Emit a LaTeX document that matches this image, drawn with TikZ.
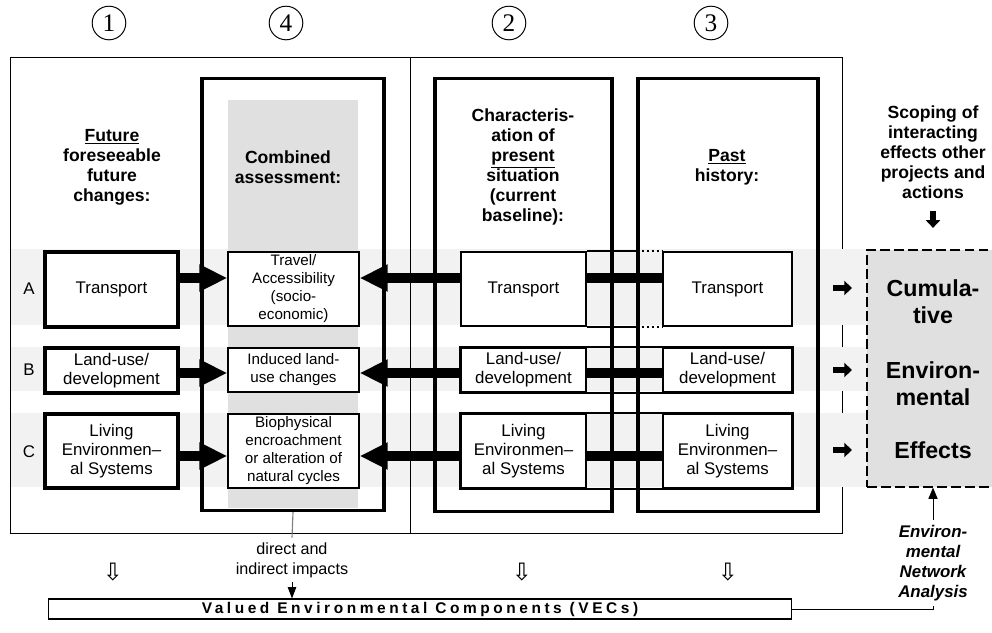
\documentclass[tikz,border=0pt]{standalone}
\usepackage{fontspec}
\setmainfont{Liberation Sans}
\newfontfamily\numfont{Liberation Serif}
\newfontfamily\symfont{DejaVu Sans}
\usetikzlibrary{arrows.meta}

\begin{document}
\begin{tikzpicture}[x=0.025cm, y=-0.025cm,
  numring/.style={circle, draw, line width=0.7pt, minimum size=0.84cm, inner sep=0pt, font=\numfont\fontsize{18}{18}\selectfont},
  header/.style={align=center, font=\bfseries\fontsize{12.5}{14.2}\selectfont},
  colbox/.style={draw, line width=2.2pt, minimum height=10.8cm},
  futbox/.style={draw, fill=white, line width=2.2pt, minimum width=3.325cm, align=center, inner sep=1pt, font=\fontsize{12}{13.5}\selectfont},
  combox/.style={draw, fill=white, line width=0.8pt, minimum width=3.275cm, align=center, inner sep=1pt, font=\fontsize{10.8}{12.8}\selectfont},
  basebox/.style={draw, fill=white, line width=1.6pt, minimum width=3.125cm, align=center, inner sep=1pt, font=\fontsize{12}{13.5}\selectfont},
  fatarrow/.style={line width=7pt, -{Triangle[length=20pt,width=18pt]}},
  fatbar/.style={line width=7pt},
  blockarrow/.style={line width=4.5pt, -{Triangle[length=5.5pt,width=10pt]}},
  effect/.style={align=center, font=\bfseries\fontsize{16.5}{19}\selectfont},
  band/.style={fill=black!5}]
  \useasboundingbox (0,0) rectangle (992,632);
  % frame and row bands
  \draw[line width=0.6pt] (10,57) rectangle (842,533);
  \foreach \ya/\yb in {249/325, 347/391, 413/487}
    \fill[band] (11,\ya) rectangle (867,\yb);
  \fill[black!12] (228,100) rectangle (358,508);
  \draw[line width=0.6pt] (410,57) -- (410,533);

  % column numbers
  \node[numring] (n1) at (109,23) {1};
  \node[numring] (n4) at (286,23) {4};
  \node[numring] (n2) at (509,23) {2};
  \node[numring] (n3) at (711,23) {3};

  % columns
  \node[colbox, minimum width=4.55cm] (col4) at (293,294.5) {};
  \node[colbox, minimum width=4.425cm] (col2) at (523.5,295) {};
  \node[colbox, minimum width=4.5cm] (col3) at (728,295) {};
  \node[header] (fut) at (112,167) {\underline{Future}\\foreseeable\\future\\changes:};
  \node[header] (comb) at (288,167.5) {Combined\\assessment:};
  \node[header] (pres) at (523,167) {Characteris-\\ation of\\\underline{present}\\situation\\(current\\baseline):};
  \node[header] (past) at (727,167) {\underline{Past}\\history:};

  % rows A, B, C
  \node[font=\fontsize{12}{12}\selectfont] (la) at (29,289) {A};
  \node[font=\fontsize{12}{12}\selectfont] (lb) at (29,370) {B};
  \node[font=\fontsize{12}{12}\selectfont] (lc) at (29,452) {C};
  \coordinate (lvA) at (0,278);
  \coordinate (lvB) at (0,373);
  \coordinate (lvC) at (0,456);

  \node[futbox, minimum height=1.875cm] (tA) at (111.5,289.5) {Transport};
  \node[futbox, minimum height=1.125cm] (tB) at (111.5,370.5) {Land-use/\\development};
  \node[futbox, minimum height=1.85cm] (tC) at (111.5,451) {Living\\Environmen--\\al Systems};

  \node[combox, minimum height=1.85cm] (cA) at (293.5,289) {Travel/\\Accessibility\\(socio-\\economic)};
  \node[combox, minimum height=1.1cm] (cB) at (293.5,370) {Induced land-\\use changes};
  \node[combox, minimum height=1.85cm] (cC) at (293.5,451) {Biophysical\\encroachment\\or alteration of\\natural cycles};

  \node[basebox, minimum height=1.85cm] (pA) at (523.5,289) {Transport};
  \node[basebox, minimum height=1.1cm] (pB) at (523.5,370) {Land-use/\\development};
  \node[basebox, minimum height=1.85cm] (pC) at (523.5,451) {Living\\Environmen--\\al Systems};
  \node[basebox, minimum width=3.225cm, minimum height=1.85cm] (hA) at (727.5,289) {Transport};
  \node[basebox, minimum width=3.225cm, minimum height=1.1cm] (hB) at (727.5,370) {Land-use/\\development};
  \node[basebox, minimum width=3.225cm, minimum height=1.85cm] (hC) at (727.5,451) {Living\\Environmen--\\al Systems};

  \draw[line width=1.6pt] (pA.north east) -- (pA.north east -| col3.west);
  \draw[line width=1.6pt, dotted] (pA.north east -| col3.west) -- (hA.north west);
  \draw[line width=1.6pt] (pA.south east) -- (pA.south east -| col3.west);
  \draw[line width=1.6pt, dotted] (pA.south east -| col3.west) -- (hA.south west);
  \draw[line width=1.6pt] (pB.north west) rectangle (hB.south east);
  \draw[line width=1.6pt] (pC.north west) rectangle (hC.south east);

  \foreach \r in {A,B,C} {
    \draw[fatarrow] (t\r.east |- lv\r) -- (c\r.west |- lv\r);
    \draw[fatarrow] (p\r.west |- lv\r) -- (c\r.east |- lv\r);
    \draw[fatbar] (p\r.east |- lv\r) -- (h\r.west |- lv\r);
  }

  % cumulative effects
  \node[draw, dash pattern=on 7pt off 3pt, fill=black!12, line width=0.8pt, minimum width=3.3cm, minimum height=5.925cm] (cee) at (933,368.5) {};
  \node[effect] (e1) at (933,301.5) {Cumula-\\tive};
  \node[effect] (e2) at (933,383.5) {Environ-\\mental};
  \node[effect] (e3) at (933,450) {Effects};
  \foreach \y in {288,370,450}
    \draw[blockarrow] (833,\y) -- (852,\y);
  \node[header] (scope) at (933,152.5) {Scoping of\\interacting\\effects other\\projects and\\actions};
  \draw[blockarrow] ([yshift=-5pt]scope.south) -- ++(0,17);
  \node[align=center, font=\bfseries\itshape\fontsize{12}{14.2}\selectfont] (ena) at (933,563) {Environ-\\mental\\Network\\Analysis};
  \draw[line width=0.6pt, -{Triangle[length=8pt,width=6.5pt]}] (ena.north) -- (cee.south);

  % VECs
  \node[draw, line width=0.8pt, minimum width=18.55cm, minimum height=0.5cm, inner sep=0pt, font=\bfseries\fontsize{11}{11}\selectfont\addfontfeature{LetterSpace=23}] (vec) at (420,609) {Valued Environmental Components (VECs)};
  \draw[line width=0.6pt] (vec.east) -| (ena.south);
  \node[align=center, font=\fontsize{11.5}{14.2}\selectfont] (dii) at (292,560) {direct and\\indirect impacts};
  \draw[gray, line width=0.8pt] (col4.south) -- (dii.north);
  \draw[line width=0.6pt, -{Triangle[length=8pt,width=6pt]}] (dii.south) -- (vec.north -| dii.south);
  \foreach \x/\n in {113/d1, 522/d2, 728/d3}
    \node[font=\symfont\fontsize{17}{17}\selectfont] (\n) at (\x,572) {⇩};
\end{tikzpicture}
\end{document}
